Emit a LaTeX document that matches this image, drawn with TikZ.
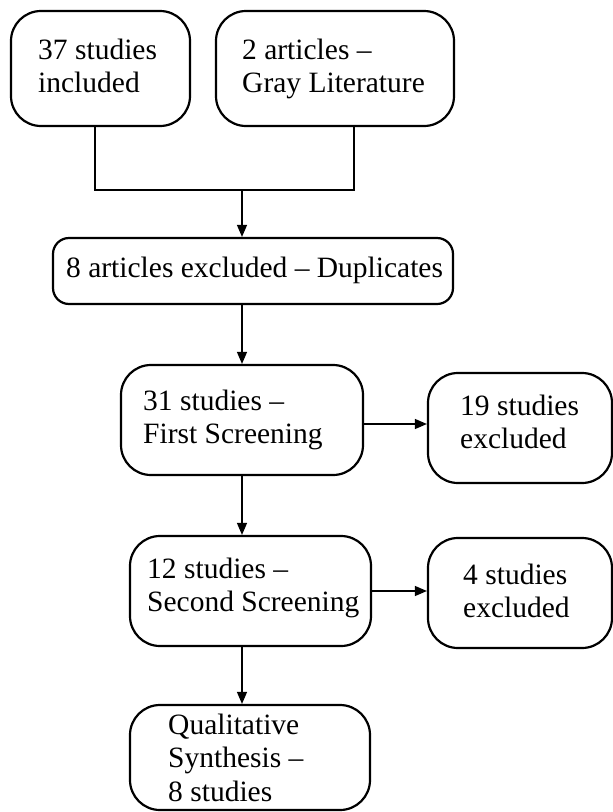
\documentclass[tikz,border=0pt]{standalone}
\usepackage{fontspec}
\setmainfont{Liberation Serif}
\usetikzlibrary{arrows.meta}
\begin{document}
\begin{tikzpicture}[x=1pt,y=-1pt,
  box/.style={draw,line width=2.2pt,rounded corners=30pt,inner sep=0pt},
  smallbox/.style={draw,line width=2.2pt,rounded corners=16pt,inner sep=0pt},
  txt/.style={anchor=base west,inner sep=0pt,font=\fontsize{29.5}{33.5}\selectfont},
  line/.style={line width=1.3pt},
  arr/.style={line width=1.3pt,-{Triangle[length=12pt,width=10pt]}}]
\useasboundingbox (0,0) rectangle (613,812);
% boxes
\node[box,minimum width=179pt,minimum height=115pt] (b1) at (100.5,68.5) {};
\node[box,minimum width=238pt,minimum height=115pt] (b2) at (335,68.5) {};
\node[smallbox,minimum width=400pt,minimum height=66pt] (b3) at (253,271) {};
\node[box,minimum width=242pt,minimum height=110pt] (b4) at (242,420) {};
\node[box,minimum width=184pt,minimum height=110pt] (b5) at (520,428) {};
\node[box,minimum width=241pt,minimum height=110pt] (b6) at (250.5,591) {};
\node[box,minimum width=184pt,minimum height=110pt] (b7) at (520,593) {};
\node[box,minimum width=240pt,minimum height=105pt] (b8) at (250,757.5) {};
% texts
\node[txt] (t1) at (38,59) {\begin{tabular}[t]{@{}l@{}}37 studies\\included\end{tabular}};
\node[txt] (t2) at (242,59) {\begin{tabular}[t]{@{}l@{}}2 articles –\\Gray Literature\end{tabular}};
\node[txt] (t3) at (66,277) {8 articles excluded – Duplicates};
\node[txt] (t4) at (143,410) {\begin{tabular}[t]{@{}l@{}}31 studies –\\First Screening\end{tabular}};
\node[txt] (t5) at (460,415) {\begin{tabular}[t]{@{}l@{}}19 studies\\excluded\end{tabular}};
\node[txt] (t6) at (147,578) {\begin{tabular}[t]{@{}l@{}}12 studies –\\Second Screening\end{tabular}};
\node[txt] (t7) at (463,584) {\begin{tabular}[t]{@{}l@{}}4 studies\\excluded\end{tabular}};
\node[txt] (t8) at (168,734) {\begin{tabular}[t]{@{}l@{}}Qualitative\\Synthesis –\\8 studies\end{tabular}};
% connectors
\coordinate (j) at (242,190);
\draw[line] ([xshift=-5.5pt]b1.south) |- (j) -| ([xshift=19pt]b2.south);
\draw[arr] (j) -- (j |- b3.north);
\draw[arr] (b3.south -| b4.north) -- (b4.north);
\draw[arr] ([yshift=-4pt]b4.east) -- ([yshift=-4pt]b4.east -| b5.west);
\draw[arr] (b4.south) -- (b4.south |- b6.north);
\draw[arr] (b6.east) -- (b6.east -| b7.west);
\draw[arr] (b4.south |- b6.south) -- (b4.south |- b8.north);
\end{tikzpicture}
\end{document}
